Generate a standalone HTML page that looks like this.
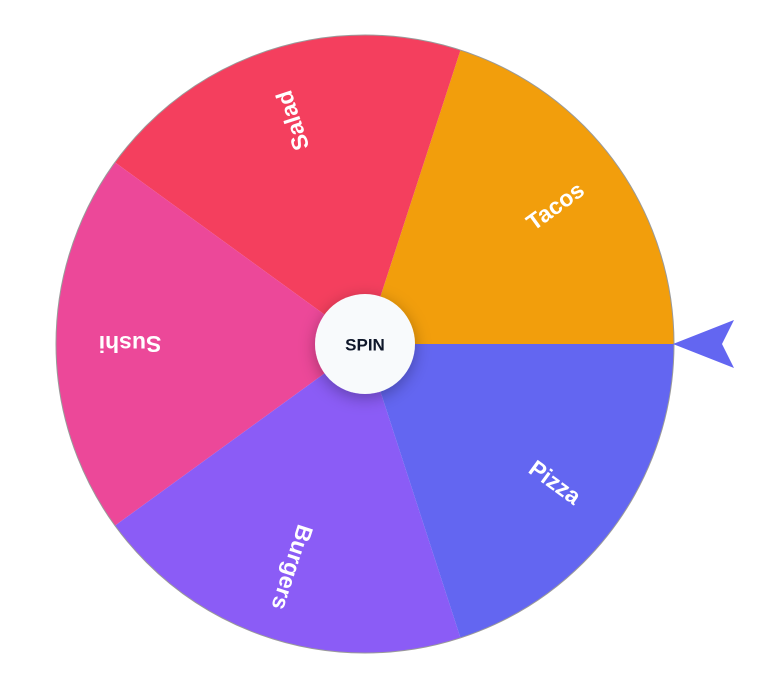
<!DOCTYPE html>
<html><head><style>
html,body{margin:0;padding:0;background:#fff;width:762px;height:697px;overflow:hidden}
text{font-family:"Liberation Sans",sans-serif;font-weight:bold}
</style></head><body>
<svg width="762" height="697" viewBox="0 0 762 697" xmlns="http://www.w3.org/2000/svg">
<defs>
<filter id="sh" x="-50%" y="-50%" width="200%" height="200%">
<feDropShadow dx="0" dy="4" stdDeviation="8" flood-color="#000" flood-opacity="0.3"/>
</filter>
</defs>
<g transform="translate(365,344)">
<path d="M0 0 L309 0 A309 309 0 0 0 95.5 -293.9 Z" fill="#F29E0C"/>
<path d="M0 0 L95.5 -293.9 A309 309 0 0 0 -250 -181.6 Z" fill="#F43F5E"/>
<path d="M0 0 L-250 -181.6 A309 309 0 0 0 -250 181.6 Z" fill="#EC4899"/>
<path d="M0 0 L-250 181.6 A309 309 0 0 0 95.5 293.9 Z" fill="#8B5CF6"/>
<path d="M0 0 L95.5 293.9 A309 309 0 0 0 309 0 Z" fill="#6366F1"/>
<circle r="309" fill="none" stroke="#9a9a9a" stroke-width="1"/>
<g fill="#fff" font-size="23" text-anchor="middle" dominant-baseline="central">
<text transform="rotate(-36) translate(235,0)">Tacos</text>
<text transform="rotate(-108) translate(235,0)">Salad</text>
<text transform="rotate(180) translate(235,0)">Sushi</text>
<text transform="rotate(108) translate(235,0)">Burgers</text>
<text transform="rotate(36) translate(235,0)">Pizza</text>
</g>
<circle r="50" fill="#F8FAFC" filter="url(#sh)"/>
<text x="0" y="1" font-size="17" fill="#0f172a" text-anchor="middle" dominant-baseline="central">SPIN</text>
</g>
<path d="M673 344 L734 320 L722 344 L734 368 Z" fill="#6366F1"/>
</svg>
</body></html>
